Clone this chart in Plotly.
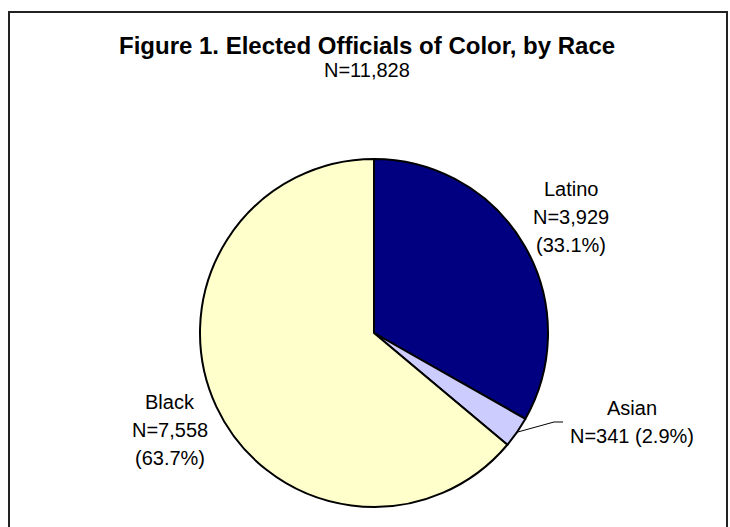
import math
import plotly.graph_objects as go

# ---- data ----
categories = ["Latino", "Asian", "Black"]
counts = [3929, 341, 7558]
percents = [33.1, 2.9, 63.7]          # as printed in the source figure
colors = ["#000080", "#CCCCFF", "#FFFFCC"]
title_text = "Figure 1. Elected Officials of Color, by Race"
total_n = 11828

W, H = 730, 527
FONT = "Liberation Sans, Arial, sans-serif"

# pie geometry (pixels, y measured from top)
cx, cy, r = 374, 333, 174


def px(x):
    return x / W


def py(y):
    return 1 - y / H


fig = go.Figure(
    go.Pie(
        labels=categories,
        values=counts,
        sort=False,
        direction="clockwise",
        rotation=0,
        marker=dict(colors=colors, line=dict(color="black", width=2)),
        textinfo="none",
        showlegend=False,
        domain=dict(x=[px(cx - r), px(cx + r)], y=[py(cy + r), py(cy - r)]),
    )
)


def lines_for(i, two_line=False):
    n = f"N={counts[i]:,}"
    p = f"({percents[i]:.1f}%)"
    if two_line:
        return [categories[i], f"{n} {p}"]
    return [categories[i], n, p]


# label block: (center x, y of first line, two-line?)
label_pos = {
    0: (571, 189, False),
    2: (170, 402, False),
    1: (632, 408, True),
}
LINE_GAP = 28

annotations = []
for i, (x, y0, two) in label_pos.items():
    for k, t in enumerate(lines_for(i, two)):
        annotations.append(dict(
            x=px(x), y=py(y0 + k * LINE_GAP), xref="paper", yref="paper",
            xanchor="center", yanchor="middle", align="center",
            text=t, showarrow=False,
            font=dict(family=FONT, size=20, color="black"),
        ))

annotations.append(dict(
    x=px(367), y=py(45), xref="paper", yref="paper",
    xanchor="center", yanchor="middle",
    text=f"<b>{title_text}</b>", showarrow=False,
    font=dict(family=FONT, size=24, color="black"),
))
annotations.append(dict(
    x=px(367), y=py(70), xref="paper", yref="paper",
    xanchor="center", yanchor="middle",
    text=f"N={total_n:,}", showarrow=False,
    font=dict(family=FONT, size=20, color="black"),
))

# leader line for the small Asian slice (start at slice mid-angle on the rim)
total = sum(counts)
frac_mid = (counts[0] + counts[1] / 2) / total
ang = 2 * math.pi * frac_mid
sx = cx + r * math.sin(ang)
sy = cy - r * math.cos(ang)
path = f"M {px(sx)},{py(sy)} L {px(554)},{py(422)} L {px(563)},{py(422)}"

shapes = [
    dict(type="path", xref="paper", yref="paper", path=path,
         line=dict(color="black", width=1)),
    dict(type="rect", xref="paper", yref="paper",
         x0=px(9), x1=px(727), y0=-0.05, y1=py(12),
         line=dict(color="#222222", width=2), fillcolor="rgba(0,0,0,0)"),
]

fig.update_layout(
    width=W, height=H,
    margin=dict(l=0, r=0, t=0, b=0),
    paper_bgcolor="white", plot_bgcolor="white",
    annotations=annotations, shapes=shapes,
)

fig.write_html("out.html")
